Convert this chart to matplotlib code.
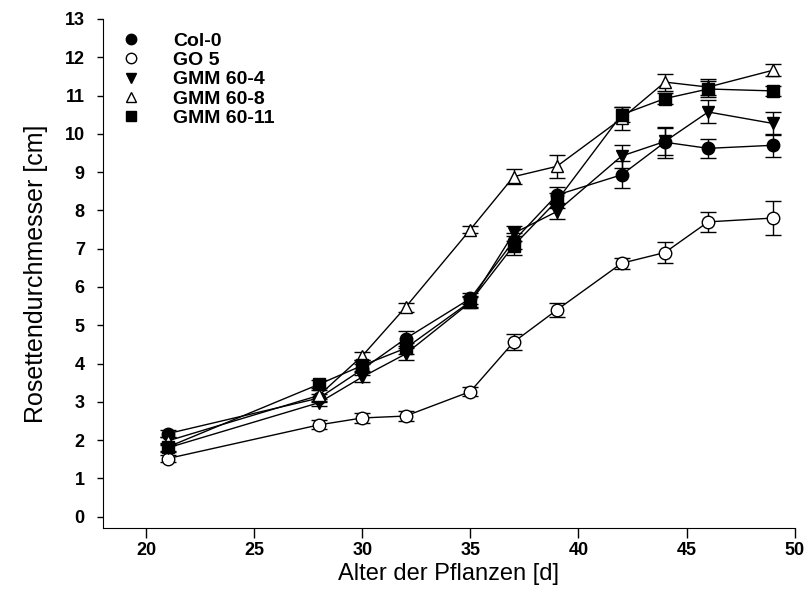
import matplotlib
import matplotlib.pyplot as plt
from matplotlib.lines import Line2D

matplotlib.use("Agg")
plt.rcParams["font.family"] = ["Liberation Sans", "DejaVu Sans"]

days = [21, 28, 30, 32, 35, 37, 39, 42, 44, 46, 49]

col0 = [2.17, 3.1, 3.85, 4.65, 5.7, 7.2, 8.4, 8.93, 9.78, 9.62, 9.7]
col0_err = [0.1, 0.1, 0.15, 0.2, 0.15, 0.2, 0.2, 0.35, 0.4, 0.25, 0.3]
go5 = [1.52, 2.4, 2.58, 2.63, 3.27, 4.56, 5.4, 6.62, 6.9, 7.7, 7.8]
go5_err = [0.1, 0.12, 0.12, 0.12, 0.12, 0.2, 0.18, 0.15, 0.27, 0.27, 0.45]
gmm4 = [1.8, 2.98, 3.65, 4.25, 5.6, 7.4, 7.97, 9.42, 9.8, 10.57, 10.27]
gmm4_err = [0.1, 0.1, 0.12, 0.15, 0.15, 0.2, 0.2, 0.3, 0.35, 0.3, 0.3]
gmm8 = [1.98, 3.17, 4.2, 5.47, 7.5, 8.88, 9.15, 10.4, 11.35, 11.22, 11.66]
gmm8_err = [0.1, 0.15, 0.1, 0.12, 0.1, 0.2, 0.3, 0.3, 0.22, 0.2, 0.15]
gmm11 = [1.82, 3.46, 3.95, 4.4, 5.62, 7.08, 8.25, 10.5, 10.92, 11.17, 11.12]
gmm11_err = [0.1, 0.1, 0.15, 0.15, 0.15, 0.25, 0.2, 0.2, 0.15, 0.2, 0.12]

labels = ["Col-0", "GO 5", "GMM 60-4", "GMM 60-8", "GMM 60-11"]
series = [col0, go5, gmm4, gmm8, gmm11]
errors = [col0_err, go5_err, gmm4_err, gmm8_err, gmm11_err]
markers = ["o", "o", "v", "^", "s"]
faces = ["black", "white", "black", "white", "black"]

fig = plt.figure(figsize=(8.1, 6.1), dpi=100)
ax = fig.add_axes([0.127, 0.134, 0.854, 0.835])

for vals, err, m, fc in zip(series, errors, markers, faces):
    ax.errorbar(days, vals, yerr=err, color="black", marker=m, markersize=9,
                markerfacecolor=fc, markeredgecolor="black", markeredgewidth=1,
                linewidth=1, elinewidth=1, capsize=5.5, capthick=1)

handles = [Line2D([], [], linestyle="none", marker=m, markersize=7.5,
                  markerfacecolor=fc, markeredgecolor="black")
           for m, fc in zip(markers, faces)]
ax.legend(handles, labels, loc="upper left", frameon=False,
          prop={"weight": "bold", "size": 14}, handlelength=1.5,
          handletextpad=1.4, labelspacing=0.08, borderaxespad=0.3,
          bbox_to_anchor=(0.0, 1.0))

ax.set_xlim(18, 50)
ax.set_ylim(-0.3, 13)
ax.set_xticks(range(20, 51, 5))
ax.set_yticks(range(0, 14))
ax.spines["top"].set_visible(False)
ax.spines["right"].set_visible(False)
ax.tick_params(axis="x", direction="out", length=7, width=1, pad=3)
ax.tick_params(axis="y", direction="out", length=4, width=1, pad=9)
for lbl in ax.get_xticklabels() + ax.get_yticklabels():
    lbl.set_fontweight("bold")
    lbl.set_fontsize(13)

ax.set_xlabel("Alter der Pflanzen [d]", fontsize=17, labelpad=3)
ax.set_ylabel("Rosettendurchmesser [cm]", fontsize=18, labelpad=12)

plt.savefig("out.png", dpi=100)
plt.close()
